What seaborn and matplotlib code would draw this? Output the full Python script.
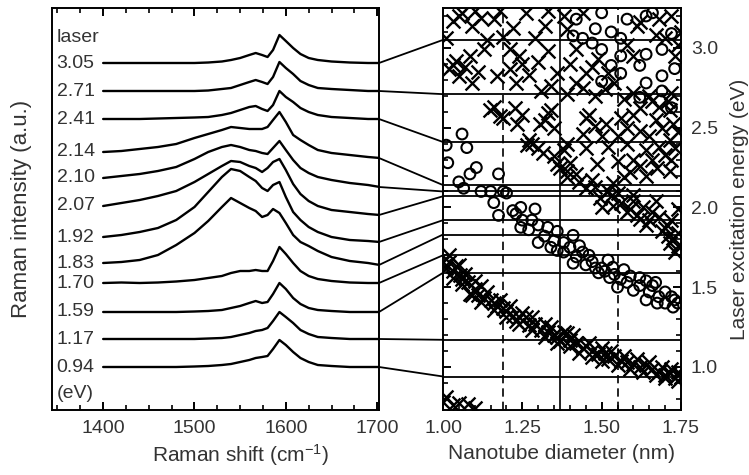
import numpy as np
import pandas as pd
import matplotlib
matplotlib.use("Agg")
import matplotlib.pyplot as plt
from matplotlib.patches import ConnectionPatch
from matplotlib.transforms import blended_transform_factory
import seaborn as sns

# ---------------- data ----------------
laser_ev = [3.05, 2.71, 2.41, 2.14, 2.10, 2.07, 1.92, 1.83, 1.70, 1.59, 1.17, 0.94]
laser_text = ["3.05", "2.71", "2.41", "2.14", "2.10", "2.07", "1.92", "1.83",
              "1.70", "1.59", "1.17", "0.94"]

# Raman shift sampling (cm^-1)
shift = [1400, 1420, 1440, 1460, 1480, 1500, 1515, 1530, 1540, 1550, 1560, 1567,
         1574, 1580, 1586, 1593, 1600, 1608, 1616, 1625, 1635, 1650, 1670, 1690, 1703]

# intensity above each trace's own baseline (a.u.)
spec_305 = [0, 0, 0, 0, 0, 0, 0.5, 1.5, 3, 5, 8, 10, 8, 6, 13, 28, 22, 15, 9, 5, 3, 1.5, 0.5, 0, 0]
spec_271 = [0, 0, 0, 0, 0, 0, 0.5, 2, 3, 6, 9, 11, 9, 7, 14, 29, 23, 17, 10, 6, 3, 2, 1, 0, 0]
spec_241 = [0, 0, 0, 0.5, 1, 1.5, 2, 4, 6, 9, 12, 13, 10, 8, 14, 28, 22, 17, 11, 7, 4, 2, 1, 0, 0]
spec_214 = [0, 1, 3, 5, 8, 14, 18, 22, 25, 24, 23, 23, 23, 25, 32, 40, 30, 17, 12, 7, 2, -1, -3, -5, -6]
spec_210 = [0, 2, 4, 7, 11, 19, 26, 31, 33, 31, 28, 27, 25, 24, 30, 37, 28, 18, 10, 5, 1, -2, -5, -7, -9]
spec_207 = [0, 3, 6, 10, 15, 24, 32, 40, 45, 44, 40, 38, 34, 38, 44, 47, 36, 22, 12, 5, 0, -4, -6, -8, -9]
spec_192 = [0, 2, 5, 9, 17, 30, 45, 60, 68, 66, 60, 56, 49, 46, 52, 55, 40, 25, 17, 10, 5, 0, -3, -4, -5]
spec_183 = [0, 1, 3, 8, 18, 30, 42, 56, 65, 60, 55, 52, 46, 48, 54, 50, 40, 28, 21, 17, 12, 6, 2, 0, -2]
spec_170 = [0, 0.5, 0, 0.5, 1.5, 3, 5, 7, 10, 12, 12, 13, 12, 12, 22, 36, 29, 20, 12, 7, 4, 2, 0.5, 0, 0]
spec_159 = [0, 0, 0, 0, 0, 0.5, 1, 2, 4, 6, 9, 11, 9, 10, 18, 29, 23, 14, 8, 4, 2, 1, 0, 0, 0]
spec_117 = [0, 0, 0, 0, 0, 0, 0.5, 1, 2, 4, 6, 8, 9, 11, 18, 27, 22, 16, 9, 5, 2, 1, 0, 0, 0]
spec_094 = [0, 0, 0, 0, 0, 0.5, 1, 2, 3, 5, 7, 9, 10, 11, 18, 27, 22, 15, 9, 5, 2, 1, 0, 0, 0]

spectra = [spec_305, spec_271, spec_241, spec_214, spec_210, spec_207,
           spec_192, spec_183, spec_170, spec_159, spec_117, spec_094]

# Kataura plot: semiconducting transitions (x), diameter nm / energy eV
semi_d = [1.01, 1.03, 1.06, 1.09, 1.10, 1.13, 1.085, 1.02, 1.03, 1.05, 1.09, 1.16, 1.17, 1.21, 1.24,
          1.21, 1.22, 1.23, 1.29, 1.30, 1.32, 1.34, 1.36, 1.38, 1.39, 1.42, 1.42, 1.45, 1.39, 1.48,
          1.49, 1.52, 1.60, 1.61, 1.62, 1.68, 1.70, 1.73, 1.74, 1.66, 1.715, 1.72, 1.26, 1.33,
          1.04, 1.07, 1.11, 1.14, 1.19, 1.25, 1.27, 1.31, 1.33, 1.40, 1.44, 1.47, 1.51, 1.54,
          1.57, 1.65, 1.68, 1.71, 1.58, 1.60, 1.67, 1.72, 1.75, 1.05, 1.12, 1.44, 1.18,
          1.148, 1.16, 1.18, 1.227, 1.233, 1.306, 1.33, 1.34, 1.35, 1.265, 1.28, 1.316, 1.36, 1.39,
          1.42, 1.39, 1.45, 1.46, 1.45, 1.485, 1.515, 1.56, 1.58, 1.57, 1.62, 1.64, 1.675, 1.715,
          1.725, 1.715, 1.62, 1.47, 1.535, 1.69, 1.72, 1.60, 1.52, 1.55,
          1.55, 1.58, 1.65, 1.68, 1.70, 1.66, 1.62, 1.59, 1.64, 1.73, 1.74, 1.60, 1.67, 1.50,
          1.48, 1.44, 1.38, 1.35, 1.30, 1.27, 1.19, 1.25, 1.32,
          1.495, 1.535, 1.58, 1.62, 1.66, 1.705, 1.725, 1.64, 1.74, 1.715, 1.69, 1.74, 1.60, 1.67, 1.55,
          1.50, 1.53, 1.56, 1.59, 1.61, 1.63, 1.65, 1.68, 1.70, 1.72, 1.74, 1.73, 1.71, 1.60,
          1.45, 1.43, 1.48, 1.52, 1.39, 1.37, 1.40,
          1.00, 1.01, 1.02, 1.03, 1.04, 1.055, 1.06, 1.08, 1.085, 1.10, 1.11, 1.12, 1.13, 1.15, 1.16,
          1.17, 1.19, 1.20, 1.22, 1.23, 1.24, 1.26, 1.27, 1.29, 1.31, 1.33, 1.35, 1.36, 1.37, 1.39,
          1.40, 1.42, 1.44, 1.45, 1.47, 1.49, 1.51, 1.52, 1.54, 1.56, 1.58, 1.60, 1.62, 1.64, 1.66,
          1.68, 1.70, 1.715, 1.73, 1.74, 1.75,
          1.02, 1.05, 1.07, 1.10, 1.14, 1.18, 1.21, 1.25, 1.28, 1.32, 1.34, 1.38, 1.41, 1.46, 1.50,
          1.53, 1.57, 1.61, 1.65, 1.69, 1.72,
          1.03, 1.06, 1.09, 1.12, 1.16, 1.20, 1.24, 1.28, 1.32, 1.36, 1.40, 1.43, 1.47, 1.50, 1.55,
          1.59, 1.63, 1.67, 1.70, 1.74,
          1.00, 1.01, 1.03, 1.05, 1.08, 1.10]
semi_e = [3.06, 3.17, 3.22, 3.14, 3.23, 2.99, 2.95, 2.87, 2.89, 2.825, 2.78, 3.18, 2.825, 2.99, 2.95,
          2.87, 3.125, 2.78, 3.06, 2.91, 3.14, 2.76, 2.84, 3.20, 3.12, 2.99, 2.78, 2.84, 2.71, 2.70,
          2.93, 2.84, 2.72, 3.14, 3.16, 3.18, 3.06, 2.95, 3.02, 2.67, 2.61, 2.72, 3.22, 3.23,
          2.92, 2.88, 2.85, 3.05, 3.07, 2.90, 2.83, 2.73, 2.98, 2.90, 2.75, 2.88, 2.74, 2.78,
          2.68, 2.70, 2.63, 2.67, 3.02, 2.95, 3.08, 3.20, 3.10, 3.20, 3.19, 3.22, 3.23,
          2.61, 2.63, 2.575, 2.625, 2.525, 2.525, 2.59, 2.61, 2.50, 2.39, 2.40, 2.34, 2.275, 2.40,
          2.21, 2.19, 2.56, 2.58, 2.375, 2.275, 2.525, 2.56, 2.40, 2.19, 2.48, 2.36, 2.25, 2.42,
          2.525, 2.23, 2.625, 2.17, 2.15, 2.50, 2.30, 2.30, 2.38, 2.29,
          2.45, 2.50, 2.45, 2.38, 2.33, 2.30, 2.26, 2.22, 2.20, 2.37, 2.47, 2.58, 2.55, 2.45,
          2.51, 2.46, 2.36, 2.32, 2.37, 2.42, 2.56, 2.58, 2.55,
          2.06, 2.01, 1.97, 1.93, 1.97, 1.89, 1.81, 1.89, 1.99, 1.78, 1.85, 1.84, 2.04, 2.04, 2.09,
          2.00, 2.07, 2.03, 1.99, 1.95, 2.00, 1.92, 1.94, 1.87, 1.92, 1.76, 1.72, 1.82, 2.08,
          2.12, 2.16, 2.13, 2.10, 2.23, 2.25, 2.28,
          1.66, 1.62, 1.66, 1.60, 1.63, 1.575, 1.55, 1.53, 1.46, 1.49, 1.45, 1.51, 1.43, 1.42, 1.40,
          1.38, 1.37, 1.35, 1.32, 1.29, 1.31, 1.31, 1.26, 1.27, 1.23, 1.22, 1.20, 1.19, 1.16, 1.21,
          1.17, 1.15, 1.12, 1.13, 1.10, 1.08, 1.09, 1.05, 1.07, 1.04, 1.03, 1.02, 1.00, 1.01, 0.99,
          0.97, 0.95, 0.96, 0.93, 0.97, 0.94,
          1.70, 1.64, 1.58, 1.54, 1.47, 1.42, 1.38, 1.34, 1.31, 1.27, 1.25, 1.22, 1.20, 1.15, 1.12,
          1.10, 1.07, 1.05, 1.03, 1.00, 0.99,
          1.56, 1.52, 1.45, 1.41, 1.36, 1.31, 1.27, 1.23, 1.19, 1.15, 1.13, 1.09, 1.06, 1.04, 1.01,
          0.99, 0.97, 0.95, 0.93, 0.91,
          0.78, 0.81, 0.76, 0.775, 0.765, 0.74]

# metallic transitions (o)
metal_d = [1.01, 1.06, 1.075, 1.015, 1.105, 1.085, 1.05, 1.175, 1.19, 1.12, 1.15, 1.20, 1.065,
           1.16, 1.175, 1.22, 1.245, 1.245, 1.29, 1.30, 1.33, 1.28, 1.30, 1.34, 1.38, 1.41, 1.43,
           1.38, 1.41, 1.46, 1.45, 1.52, 1.50, 1.535, 1.57, 1.525, 1.55, 1.58, 1.60, 1.62, 1.64,
           1.66, 1.64, 1.675, 1.70, 1.72, 1.725, 1.74, 1.36, 1.42, 1.49,
           1.27, 1.32, 1.35, 1.40, 1.44, 1.47, 1.48, 1.51, 1.54, 1.56, 1.59, 1.62, 1.65, 1.68,
           1.70, 1.73, 1.67, 1.36, 1.25, 1.23,
           1.42, 1.50, 1.48, 1.41, 1.44, 1.47, 1.50, 1.53, 1.56, 1.56, 1.56, 1.64, 1.64, 1.62,
           1.69, 1.72, 1.69, 1.73, 1.64, 1.50, 1.62, 1.69, 1.72, 1.66, 1.58, 1.53]
metal_e = [2.39, 2.46, 2.375, 2.28, 2.25, 2.21, 2.16, 2.21, 2.10, 2.10, 2.10, 2.09, 2.12,
           2.03, 1.95, 1.98, 2.00, 1.875, 1.99, 1.89, 1.875, 1.92, 1.78, 1.75, 1.78, 1.825, 1.76,
           1.72, 1.65, 1.70, 1.64, 1.67, 1.62, 1.625, 1.61, 1.56, 1.50, 1.53, 1.48, 1.56, 1.54,
           1.51, 1.42, 1.40, 1.47, 1.44, 1.375, 1.40, 1.73, 1.69, 1.59,
           1.86, 1.82, 1.79, 1.75, 1.72, 1.66, 1.62, 1.60, 1.58, 1.55, 1.57, 1.51, 1.47, 1.44,
           1.40, 1.42, 1.53, 1.85, 1.92, 1.96,
           3.18, 3.22, 3.12, 3.075, 3.06, 3.03, 2.99, 2.89, 3.06, 2.95, 2.84, 3.20, 2.96, 2.89,
           2.99, 3.09, 2.825, 2.87, 2.78, 2.79, 2.69, 2.73, 2.625, 3.22, 3.18, 3.10]

# mean diameter and distribution width (nm)
d_mean = 1.37
d_low, d_high = 1.19, 1.55

# ---------------- layout ----------------
# vertical stacking position of each trace inside the left panel
offsets = [347, 319, 291, 258, 232, 204, 173, 147, 127, 98, 71, 43]

sns.set_theme(style="ticks")
plt.rcParams["font.family"] = ["Liberation Sans", "DejaVu Sans"]
plt.rcParams["text.color"] = "#333333"
plt.rcParams["axes.labelcolor"] = "#333333"
plt.rcParams["xtick.color"] = "black"
plt.rcParams["ytick.color"] = "black"
plt.rcParams["xtick.labelcolor"] = "#333333"
plt.rcParams["ytick.labelcolor"] = "#333333"
plt.rcParams["axes.linewidth"] = 1.4
plt.rcParams["mathtext.default"] = "regular"

fig = plt.figure(figsize=(7.49, 4.75), dpi=100)
ax1 = fig.add_axes([52 / 749, 1 - 410 / 475, 327 / 749, 402 / 475])
ax2 = fig.add_axes([443 / 749, 1 - 410 / 475, 238 / 749, 402 / 475])

# ---------- left: stacked Raman spectra ----------
rows = []
for lab, off, sp in zip(laser_text, offsets, spectra):
    for w, h in zip(shift, sp):
        rows.append({"shift": w, "intensity": off + h, "laser": lab})
df_spec = pd.DataFrame(rows)

sns.lineplot(data=df_spec, x="shift", y="intensity", units="laser", estimator=None,
             sort=False, color="black", lw=1.7, ax=ax1, legend=False)

ax1.set_xlim(1344, 1702)
ax1.set_ylim(0, 402)
ax1.set_yticks([])
ax1.set_xticks([1400, 1500, 1600, 1700])
ax1.set_xticks(np.arange(1350, 1701, 25), minor=True)
ax1.tick_params(axis="x", which="both", direction="in", top=True, bottom=True,
                labelsize=14, pad=7)
ax1.tick_params(axis="x", which="major", length=6, width=1.4)
ax1.tick_params(axis="x", which="minor", length=3.5, width=1.2)
ax1.set_xlabel("Raman shift (cm$^{-1}$)", fontsize=15)
ax1.xaxis.set_label_coords(0.576, -0.08)
ax1.set_ylabel("Raman intensity (a.u.)", fontsize=16)
ax1.yaxis.set_label_coords(-0.06, 0.5)

lab_tr = blended_transform_factory(ax1.transAxes, ax1.transData)
for lab, off in zip(laser_text, offsets):
    ax1.text(0.014, off, lab, transform=lab_tr, fontsize=14, va="center", ha="left")
ax1.text(0.014, 373, "laser", transform=lab_tr, fontsize=14, va="center", ha="left")
ax1.text(0.014, 17, "(eV)", transform=lab_tr, fontsize=14, va="center", ha="left")

# ---------- right: Kataura plot ----------
df_s = pd.DataFrame({"d": semi_d, "E": semi_e})
df_m = pd.DataFrame({"d": metal_d, "E": metal_e})
sns.scatterplot(data=df_s, x="d", y="E", marker="x", s=100, color="black",
                linewidth=1.7, ax=ax2, legend=False)
sns.scatterplot(data=df_m, x="d", y="E", marker="o", s=60, facecolor="none",
                edgecolor="black", linewidth=1.5, ax=ax2, legend=False)

for e in laser_ev:
    ax2.axhline(e, color="black", lw=1.3, zorder=3)
ax2.axvline(d_mean, color="black", lw=1.2, zorder=3)
for d in (d_low, d_high):
    ax2.axvline(d, color="black", lw=1.2, ls=(0, (5, 3)), zorder=3)

ax2.set_xlim(1.00, 1.75)
ax2.set_ylim(0.73, 3.25)
ax2.set_xticks([1.00, 1.25, 1.50, 1.75])
ax2.set_xticklabels(["1.00", "1.25", "1.50", "1.75"])
ax2.set_xticks(np.arange(1.00, 1.751, 0.05), minor=True)
ax2.set_yticks([1.0, 1.5, 2.0, 2.5, 3.0])
ax2.set_yticks(np.arange(0.8, 3.25, 0.1), minor=True)
ax2.yaxis.tick_right()
ax2.yaxis.set_label_position("right")
ax2.tick_params(axis="x", which="both", direction="in", bottom=True, top=False,
                labelsize=14, pad=7)
ax2.tick_params(axis="y", which="both", direction="in", left=True, right=True,
                labelleft=False, labelright=True, labelsize=14, pad=7)
ax2.tick_params(which="major", length=6, width=1.4)
ax2.tick_params(which="minor", length=3.5, width=1.2)
ax2.set_xlabel("Nanotube diameter (nm)", fontsize=15)
ax2.xaxis.set_label_coords(0.5, -0.085)
ax2.set_ylabel("Laser excitation energy (eV)", fontsize=15, rotation=90)
ax2.yaxis.set_label_coords(1.205, 0.5)

for spn in list(ax1.spines.values()) + list(ax2.spines.values()):
    spn.set_visible(True)
    spn.set_color("black")

# ---------- connectors: trace end -> excitation energy ----------
x_end = ax1.get_xlim()[1]
for e, off, sp in zip(laser_ev, offsets, spectra):
    con = ConnectionPatch(xyA=(x_end, off + sp[-1]), coordsA=ax1.transData,
                          xyB=(1.00, e), coordsB=ax2.transData,
                          color="black", lw=1.3)
    fig.add_artist(con)

fig.savefig("out.png", dpi=100)
